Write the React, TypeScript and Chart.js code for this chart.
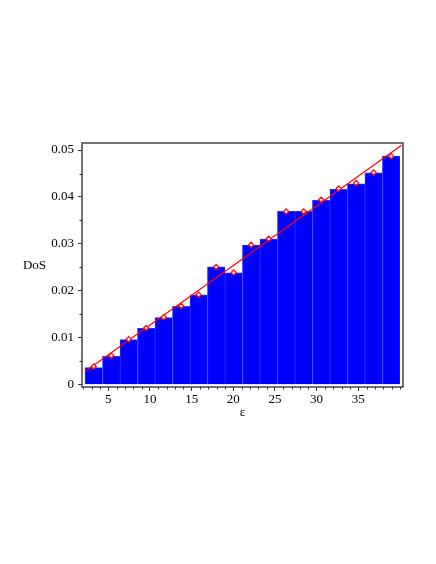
import React, { useEffect, useRef } from "react";
import { Chart, registerables } from "chart.js";

Chart.register(...registerables);

// Bin centres of the histogram (ε)
const binCenters = [3.25, 5.35, 7.45, 9.55, 11.65, 13.75, 15.85, 17.95, 20.05, 22.15, 24.25, 26.35, 28.45, 30.55, 32.65, 34.75, 36.85, 38.95];
// Histogram heights (DoS)
const dosBars = [0.00367, 0.00608, 0.00963, 0.0120, 0.01432, 0.01673, 0.01915, 0.02512, 0.02384, 0.02974, 0.03102, 0.03693, 0.03693, 0.03927, 0.04162, 0.04282, 0.04516, 0.04872];
// Diamond markers (DoS)
const dosPoints = [0.0039, 0.0062, 0.0097, 0.0121, 0.0144, 0.0168, 0.0192, 0.0251, 0.0239, 0.0298, 0.0311, 0.0369, 0.0369, 0.0394, 0.0418, 0.0430, 0.0452, 0.0487];
// Fitted straight line end points
const fitX = [2.2, 40.2];
const fitY = [0.00285, 0.0510];
// Ticks
const xTicks = [5, 10, 15, 20, 25, 30, 35];
const yTicks = [0, 0.01, 0.02, 0.03, 0.04, 0.05];
const yTickLabels = ["0", "0.01", "0.02", "0.03", "0.04", "0.05"];
const xMinorTicks = [2, 3, 4, 6, 7, 8, 9, 11, 12, 13, 14, 16, 17, 18, 19, 21, 22, 23, 24, 26, 27, 28, 29, 31, 32, 33, 34, 36, 37, 38, 39, 40];
const yMinorTicks = [0.005, 0.015, 0.025, 0.035, 0.045];
const xTitle = "ε";
const yTitle = "DoS";

const FONT = '"Liberation Serif", "Times New Roman", serif';

export default function App() {
  const ref = useRef<HTMLCanvasElement | null>(null);

  useEffect(() => {
    const canvas = ref.current;
    if (!canvas) return;
    document.body.style.margin = "0";

    const framePlugin = {
      id: "framePlugin",
      afterDatasetsDraw(chart: any) {
        const { ctx, chartArea } = chart;
        const xs = chart.scales.x;
        const ys = chart.scales.y;
        ctx.save();
        ctx.strokeStyle = "#444";
        ctx.lineWidth = 1.5;
        ctx.strokeRect(chartArea.left, chartArea.top, chartArea.right - chartArea.left, chartArea.bottom - chartArea.top);
        ctx.lineWidth = 1;
        ctx.strokeStyle = "#333";
        ctx.beginPath();
        for (const v of xMinorTicks) {
          const px = Math.round(xs.getPixelForValue(v)) + 0.5;
          ctx.moveTo(px, chartArea.bottom);
          ctx.lineTo(px, chartArea.bottom + 2.5);
        }
        for (const v of yMinorTicks) {
          const py = Math.round(ys.getPixelForValue(v)) + 0.5;
          ctx.moveTo(chartArea.left, py);
          ctx.lineTo(chartArea.left - 2.5, py);
        }
        ctx.stroke();
        ctx.fillStyle = "#000";
        ctx.font = `13px ${FONT}`;
        ctx.textAlign = "center";
        ctx.textBaseline = "middle";
        ctx.fillText(yTitle, 34.5, (chartArea.top + chartArea.bottom) / 2 + 1);
        ctx.fillText(xTitle, (chartArea.left + chartArea.right) / 2, 413);
        ctx.restore();
      },
    };

    const chart = new Chart(canvas, {
      type: "bar",
      data: {
        datasets: [
          {
            type: "scatter",
            data: binCenters.map((x, i) => ({ x, y: dosPoints[i] })),
            pointStyle: "rectRot",
            pointRadius: 2.6,
            pointBorderWidth: 1.3,
            borderColor: "#ff1010",
            backgroundColor: "#ffffff",
            order: 0,
          } as any,
          {
            type: "line",
            data: fitX.map((x, i) => ({ x, y: fitY[i] })),
            borderColor: "#ff0000",
            borderWidth: 1.2,
            pointRadius: 0,
            order: 1,
          } as any,
          {
            type: "bar",
            data: binCenters.map((x, i) => ({ x, y: dosBars[i] })),
            backgroundColor: "#0000ff",
            borderColor: "#2c2cff",
            borderWidth: { left: 1, right: 0, top: 1, bottom: 0 },
            borderSkipped: false,
            barPercentage: 1,
            categoryPercentage: 1,
            order: 2,
          } as any,
        ],
      },
      options: {
        responsive: false,
        animation: false,
        devicePixelRatio: 1,
        layout: { padding: { top: 143, right: 33, left: 0, bottom: 0 } },
        plugins: { legend: { display: false }, tooltip: { enabled: false } },
        scales: {
          x: {
            type: "linear",
            offset: false,
            min: 1.84,
            max: 40.37,
            afterBuildTicks: (s: any) => {
              s.ticks = xTicks.map((v) => ({ value: v }));
            },
            afterFit: (s: any) => {
              s.height = 177;
            },
            ticks: {
              autoSkip: false,
              maxRotation: 0,
              padding: 1,
              color: "#000",
              font: { family: FONT, size: 13 },
              callback: (v: any) => String(v),
            },
            grid: { offset: false, drawOnChartArea: false, drawTicks: true, tickLength: 4, color: "#333" },
            border: { display: false },
          },
          y: {
            type: "linear",
            min: -0.00047,
            max: 0.0515,
            afterBuildTicks: (s: any) => {
              s.ticks = yTicks.map((v) => ({ value: v }));
            },
            afterFit: (s: any) => {
              s.width = 82;
            },
            ticks: {
              autoSkip: false,
              padding: 4,
              color: "#000",
              font: { family: FONT, size: 13 },
              callback: (v: any) => {
                const i = yTicks.indexOf(v);
                return i >= 0 ? yTickLabels[i] : "";
              },
            },
            grid: { drawOnChartArea: false, drawTicks: true, tickLength: 4, color: "#333" },
            border: { display: false },
          },
        },
      } as any,
      plugins: [framePlugin],
    });

    return () => chart.destroy();
  }, []);

  return (
    <div style={{ position: "absolute", left: 0, top: 0, width: 436, height: 564, background: "#fff" }}>
      <canvas ref={ref} width={436} height={564} style={{ display: "block" }} />
    </div>
  );
}
